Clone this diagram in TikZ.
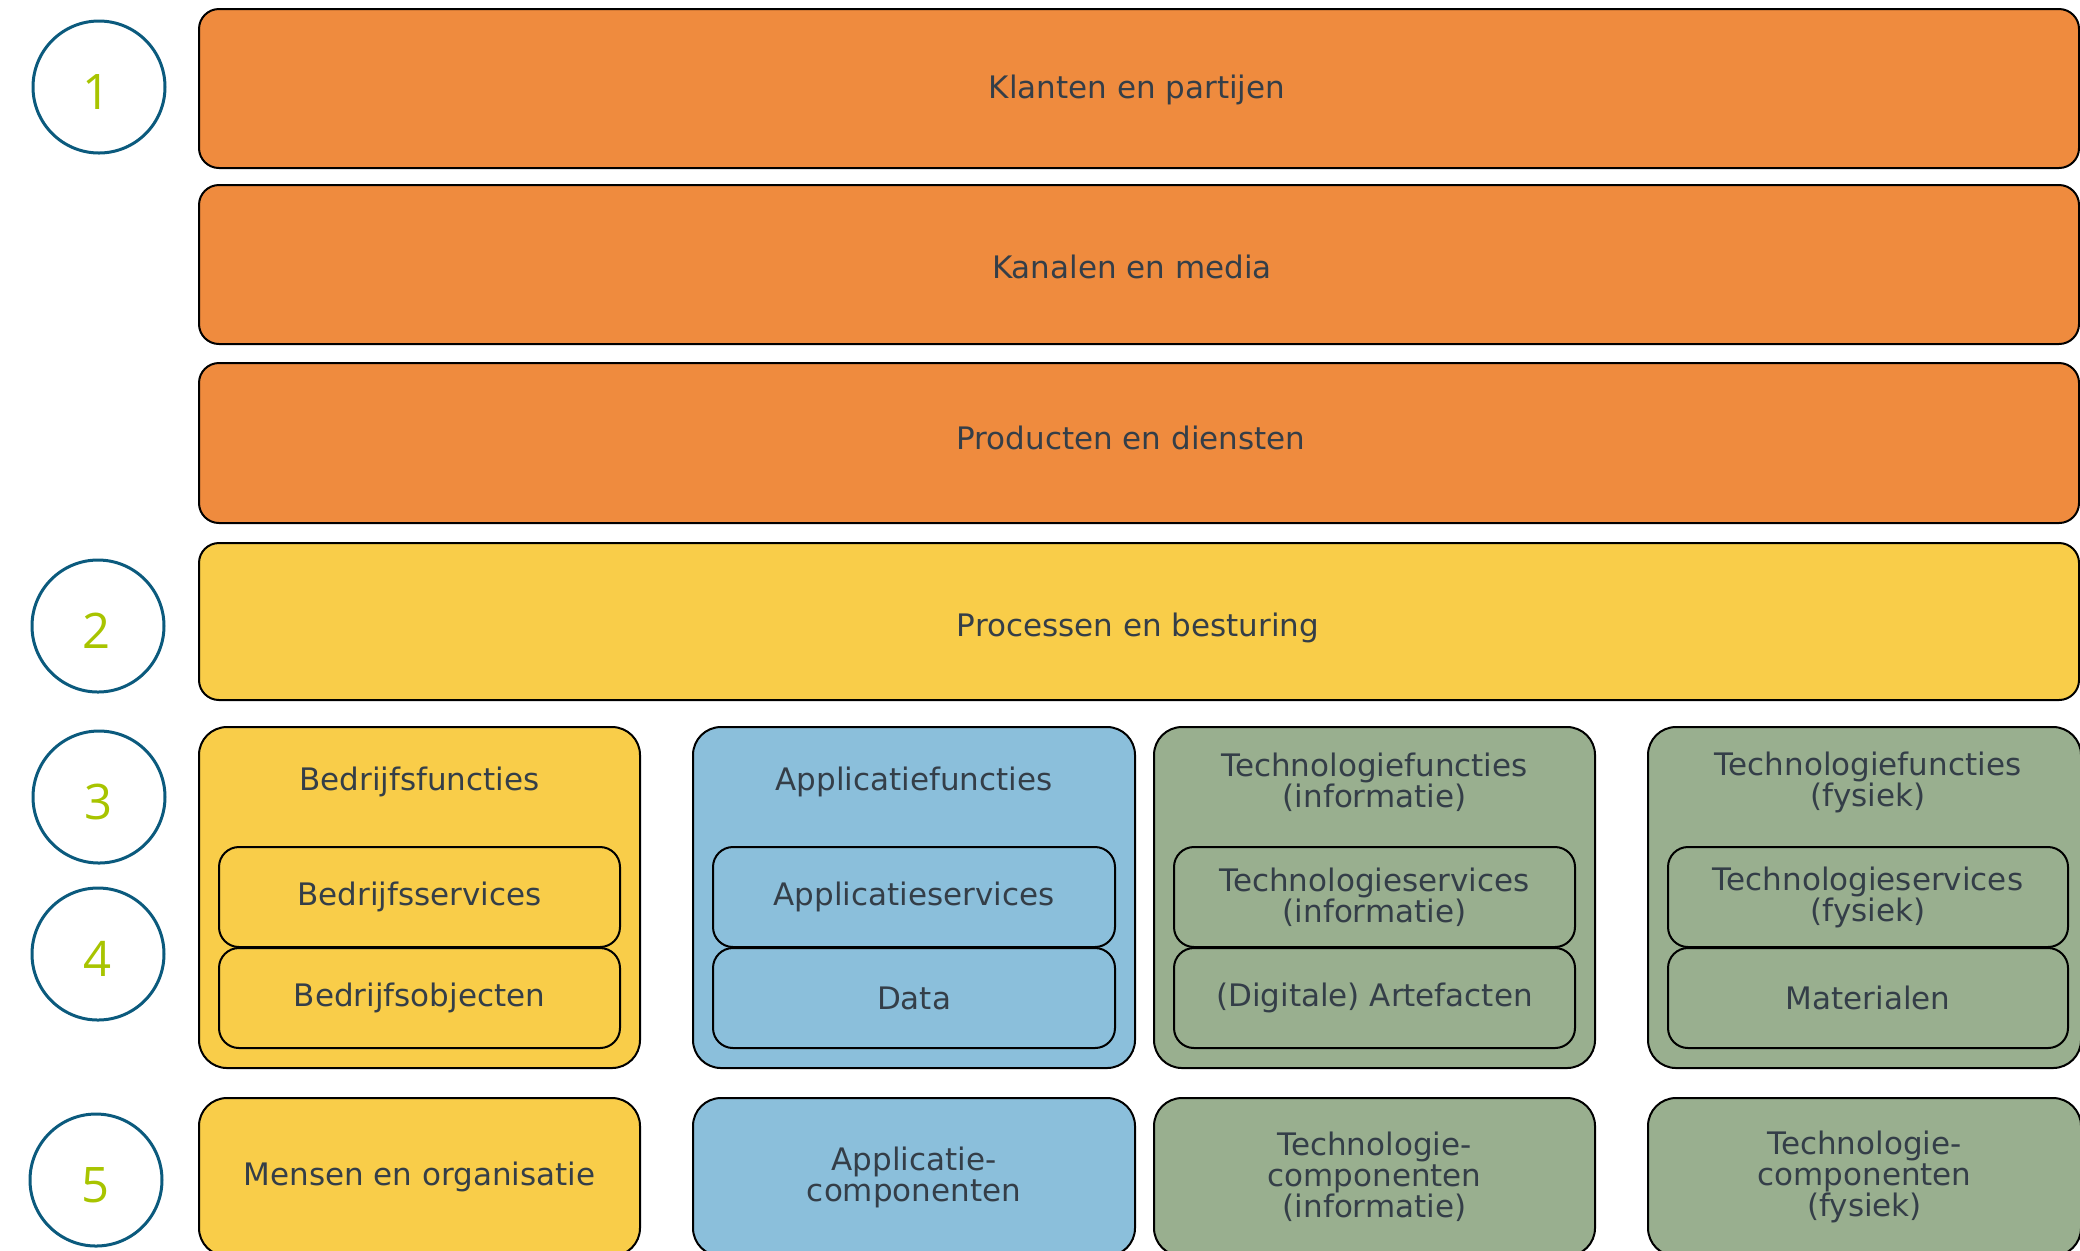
\documentclass[tikz,border=0pt]{standalone}
\usepackage{fontspec}
\setmainfont{DejaVu Sans}
\newfontfamily\numfont{Open Sans}
\definecolor{orangeF}{HTML}{EF8B3E}
\definecolor{yellowF}{HTML}{F9CD49}
\definecolor{blueF}{HTML}{8BBFDB}
\definecolor{greenF}{HTML}{99AF8F}
\definecolor{txtC}{HTML}{343E48}
\definecolor{ringC}{HTML}{0B5A7D}
\definecolor{numC}{HTML}{A8C400}
\newcommand\rbox[7]{%
  \node[#2, minimum width={(#5-#3)*0.5pt}, minimum height={(#6-#4)*0.5pt}] (#1) at ({(#3+#5)/2},{(#4+#6)/2}) {#7};}
\begin{document}
\begin{tikzpicture}[x=0.5pt,y=-0.5pt,
  basebox/.style={draw=black, line width=1pt, text=txtC, align=center, inner sep=0pt,
    font=\fontsize{15.5}{15.5}\selectfont},
  wide/.style={basebox, rounded corners=10pt, fill=orangeF},
  proc/.style={basebox, rounded corners=10pt, fill=yellowF},
  outerbox/.style={basebox, rounded corners=14pt},
  innerbox/.style={basebox, rounded corners=10pt},
  lbl/.style={text=txtC, align=center, inner sep=0pt, font=\fontsize{15.5}{15.5}\selectfont},
  ring/.style={circle, draw=ringC, line width=1.5pt, minimum size=66pt, inner sep=0pt},
  num/.style={text=numC, inner sep=0pt, font=\numfont\fontsize{24.5}{24.5}\selectfont},
  cyel/.style={fill=yellowF}, cblu/.style={fill=blueF}, cgrn/.style={fill=greenF}]
\useasboundingbox (0,0) rectangle (2080,1250);
\clip (0,0) rectangle (2080,1250);

% circles
\node[ring] (c1) at (99,87) {};
\node[ring] (c2) at (98,626) {};
\node[ring] (c3) at (99,797) {};
\node[ring] (c4) at (98,954) {};
\node[ring] (c5) at (96,1180) {};
\node[num] (n1) at (97,92) {1};
\node[num] (n2) at (97,631) {2};
\node[num] (n3) at (99,802) {3};
\node[num] (n4) at (98,959) {4};
\node[num] (n5) at (96,1185) {5};

% wide layers
\rbox{klanten}{wide}{199}{9}{2079}{168}{}
\rbox{kanalen}{wide}{199}{185}{2079}{344}{}
\rbox{producten}{wide}{199}{363}{2079}{523}{}
\rbox{processen}{proc}{199}{543}{2079}{700}{}
\node[lbl] (klantenT) at (1137,90) {Klanten en partijen};
\node[lbl] (kanalenT) at (1132,267) {Kanalen en media};
\node[lbl] (productenT) at (1131,438) {Producten en diensten};
\node[lbl] (processenT) at (1138,628) {Processen en besturing};

% column outer boxes
\rbox{o1}{outerbox,cyel}{199}{727}{640}{1068}{}
\rbox{o2}{outerbox,cblu}{693}{727}{1135}{1068}{}
\rbox{o3}{outerbox,cgrn}{1154}{727}{1595}{1068}{}
\rbox{o4}{outerbox,cgrn}{1648}{727}{2081}{1068}{}

% titles
\node[lbl] (t1) at (419.5,782) {Bedrijfsfuncties};
\node[lbl] (t2) at (914,782) {Applicatiefuncties};
\node[lbl] (t3) at (1374.5,782) {Technologiefuncties\\(informatie)};
\node[lbl] (t4) at (1868,782) {Technologiefuncties\\(fysiek)};

% inner boxes
\rbox{s1}{innerbox,cyel}{219}{847}{620}{947}{Bedrijfsservices}
\rbox{d1}{innerbox,cyel}{219}{948}{620}{1048}{Bedrijfsobjecten}
\rbox{s2}{innerbox,cblu}{713}{847}{1115}{947}{Applicatieservices}
\rbox{d2}{innerbox,cblu}{713}{948}{1115}{1048}{Data}
\rbox{s3}{innerbox,cgrn}{1174}{847}{1575}{947}{Technologieservices\\(informatie)}
\rbox{d3}{innerbox,cgrn}{1174}{948}{1575}{1048}{(Digitale) Artefacten}
\rbox{s4}{innerbox,cgrn}{1668}{847}{2068}{947}{Technologieservices\\(fysiek)}
\rbox{d4}{innerbox,cgrn}{1668}{948}{2068}{1048}{Materialen}

% bottom row
\rbox{b1}{outerbox,cyel}{199}{1098}{640}{1256}{Mensen en organisatie}
\rbox{b2}{outerbox,cblu}{693}{1098}{1135}{1256}{Applicatie-\\componenten}
\rbox{b3}{outerbox,cgrn}{1154}{1098}{1595}{1256}{Technologie-\\componenten\\(informatie)}
\rbox{b4}{outerbox,cgrn}{1648}{1098}{2081}{1256}{Technologie-\\componenten\\(fysiek)}
\end{tikzpicture}
\end{document}
